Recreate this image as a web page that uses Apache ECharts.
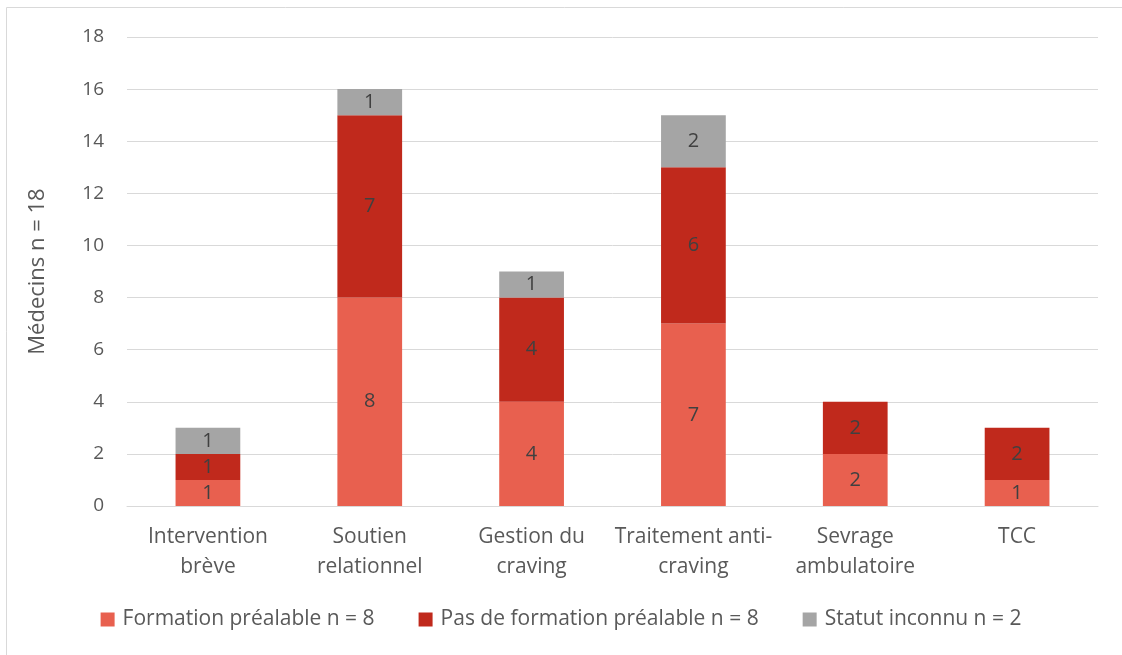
<!DOCTYPE html>
<html>
<head>
<meta charset="utf-8">
<script src="https://cdn.jsdelivr.net/npm/echarts@6/dist/echarts.min.js"></script>
<style>
  html, body { margin: 0; padding: 0; background: #fff; }
  #chart { width: 1122px; height: 655px; }
</style>
</head>
<body>
<div id="chart"></div>
<script>
// catégories et valeurs
const categories = ['Intervention\nbrève', 'Soutien\nrelationnel', 'Gestion du\ncraving', 'Traitement anti-\ncraving', 'Sevrage\nambulatoire', 'TCC'];
const formation = [1, 8, 4, 7, 2, 1];
const pasFormation = [1, 7, 4, 6, 2, 2];
const inconnu = [1, 1, 1, 2, null, null];
const seriesNames = ['Formation préalable n = 8', 'Pas de formation préalable n = 8', 'Statut inconnu n = 2'];
const colors = ['#E8604F', '#C0291C', '#A5A5A5'];

const font = '"Open Sans", sans-serif';
const myChart = echarts.init(document.getElementById('chart'));

function bar(name, data, color) {
  return {
    name: name,
    type: 'bar',
    stack: 'total',
    barWidth: '40%',
    data: data,
    itemStyle: { color: color },
    label: {
      show: true,
      position: 'inside',
      color: '#404040',
      fontFamily: font,
      fontSize: 20
    }
  };
}

const option = {
  animation: false,
  textStyle: { fontFamily: font },
  graphic: [{
    type: 'rect',
    shape: { x: 6.5, y: 7.5, width: 1130, height: 660 },
    style: { fill: 'none', stroke: '#d9d9d9', lineWidth: 1 },
    silent: true
  }],
  grid: { left: 127, right: 24, top: 37, bottom: 149 },
  legend: {
    bottom: 20,
    left: 'center',
    itemWidth: 14,
    itemHeight: 14,
    itemGap: 44,
    icon: 'rect',
    textStyle: { color: '#595959', fontSize: 21, fontFamily: font, padding: [0, 0, 0, 3] }
  },
  xAxis: {
    type: 'category',
    data: categories,
    axisTick: { show: false },
    axisLine: { lineStyle: { color: '#d9d9d9' } },
    axisLabel: { color: '#595959', fontSize: 21, lineHeight: 30, margin: 16, fontFamily: font, interval: 0 }
  },
  yAxis: {
    type: 'value',
    min: 0,
    max: 18,
    interval: 2,
    name: 'Médecins n = 18',
    nameLocation: 'middle',
    nameGap: 78,
    nameTextStyle: { color: '#595959', fontSize: 22, fontFamily: font },
    axisLabel: { color: '#595959', fontSize: 19, margin: 23, fontFamily: font },
    axisLine: { show: false },
    axisTick: { show: false },
    splitLine: { lineStyle: { color: '#d9d9d9', width: 1 } }
  },
  series: [
    bar(seriesNames[0], formation, colors[0]),
    bar(seriesNames[1], pasFormation, colors[1]),
    bar(seriesNames[2], inconnu, colors[2])
  ]
};
myChart.setOption(option);
</script>
</body>
</html>
